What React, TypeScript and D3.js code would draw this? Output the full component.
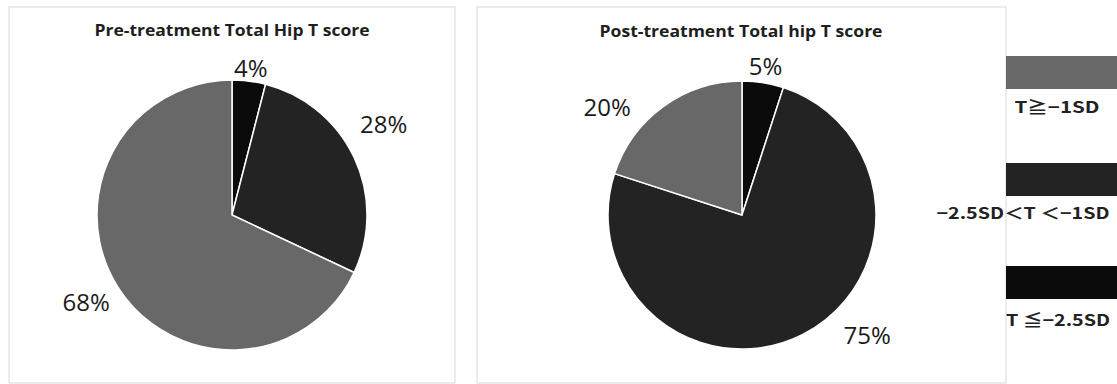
import React from "react";
import * as d3 from "d3";

const categories = ["T≧−1SD", "−2.5SD＜T ＜−1SD", "T ≦−2.5SD"];
const preValues = [68, 28, 4];
const postValues = [20, 75, 5];
const preLabels = ["68%", "28%", "4%"];
const postLabels = ["20%", "75%", "5%"];
const titles = ["Pre-treatment Total Hip T score", "Post-treatment Total hip T score"];

const colors = ["#686868", "#232323", "#0b0b0b"];
// clockwise drawing order from 12 o'clock: T<=-2.5, mid, T>=-1
const drawOrder = [2, 1, 0];

type Panel = {
  x: number; y: number; w: number; h: number;
  cx: number; cy: number; r: number;
  titleX: number; titleY: number; titleW: number;
  values: number[]; labels: string[];
  labelR: number[]; nudge: [number, number][];
};

const panels: Panel[] = [
  {
    x: 9, y: 7, w: 446, h: 376, cx: 232, cy: 215, r: 135,
    titleX: 232, titleY: 36, titleW: 275,
    values: preValues, labels: preLabels,
    labelR: [168, 172, 150], nudge: [[-4, -2], [-4, -17], [0, 2]],
  },
  {
    x: 477, y: 7, w: 529, h: 376, cx: 742, cy: 215, r: 134,
    titleX: 741, titleY: 37, titleW: 283,
    values: postValues, labels: postLabels,
    labelR: [170, 172, 150], nudge: [[-35, 30], [47, -33], [0, 0]],
  },
];

function PiePanel({ p, k }: { p: Panel; k: number }) {
  const ordered = drawOrder.map((i) => ({ i, v: p.values[i] }));
  const pie = d3.pie<{ i: number; v: number }>().sort(null).value((d) => d.v);
  const arcs = pie(ordered);
  const arc = d3.arc<d3.PieArcDatum<{ i: number; v: number }>>().innerRadius(0).outerRadius(p.r);
  return (
    <g>
      <rect x={p.x} y={p.y} width={p.w} height={p.h} fill="#fff" stroke="#d9d9d9" strokeWidth={1} />
      <text x={p.titleX} y={p.titleY} textAnchor="middle" fontFamily="'Open Sans', sans-serif" fontWeight={700}
        fontSize={16} fill="#1e1e1e" textLength={p.titleW} lengthAdjust="spacingAndGlyphs">{titles[k]}</text>
      <g transform={`translate(${p.cx},${p.cy})`}>
        {arcs.map((a) => (
          <path key={a.data.i} d={arc(a) || ""} fill={colors[a.data.i]} stroke="#fff" strokeWidth={1.5} strokeLinejoin="round" />
        ))}
        {arcs.map((a) => {
          const i = a.data.i;
          const lr = p.labelR[i];
          const la = d3.arc<d3.PieArcDatum<{ i: number; v: number }>>().innerRadius(lr).outerRadius(lr);
          const [lx, ly] = la.centroid(a);
          const [nx, ny] = p.nudge[i];
          return (
            <text key={"l" + i} x={lx + nx} y={ly + ny} dy="0.35em" textAnchor="middle"
              fontFamily="'Open Sans', sans-serif" fontSize={24} fill="#1a1a1a">{p.labels[i]}</text>
          );
        })}
      </g>
    </g>
  );
}

const legendY = [56, 163, 266];
const legendTextY = [107, 213, 320];
const legendTextX = [1057, 1023, 1058];
const legendTextW = [85, 173, 104];

export default function App() {
  return (
    <div style={{ position: "fixed", left: 0, top: 0 }}>
      <svg width={1117} height={384} style={{ display: "block", background: "#fff" }}>
        {panels.map((p, k) => <PiePanel key={k} p={p} k={k} />)}
        {categories.map((c, i) => (
          <g key={c}>
            <rect x={1006} y={legendY[i]} width={111} height={33} fill={colors[i]} />
            <text x={legendTextX[i]} y={legendTextY[i]} dy="0.35em" textAnchor="middle"
              fontFamily="'Noto Sans CJK JP', sans-serif" fontWeight={700} fontSize={16} fill="#222"
              textLength={legendTextW[i]} lengthAdjust="spacingAndGlyphs">{c}</text>
          </g>
        ))}
      </svg>
    </div>
  );
}
